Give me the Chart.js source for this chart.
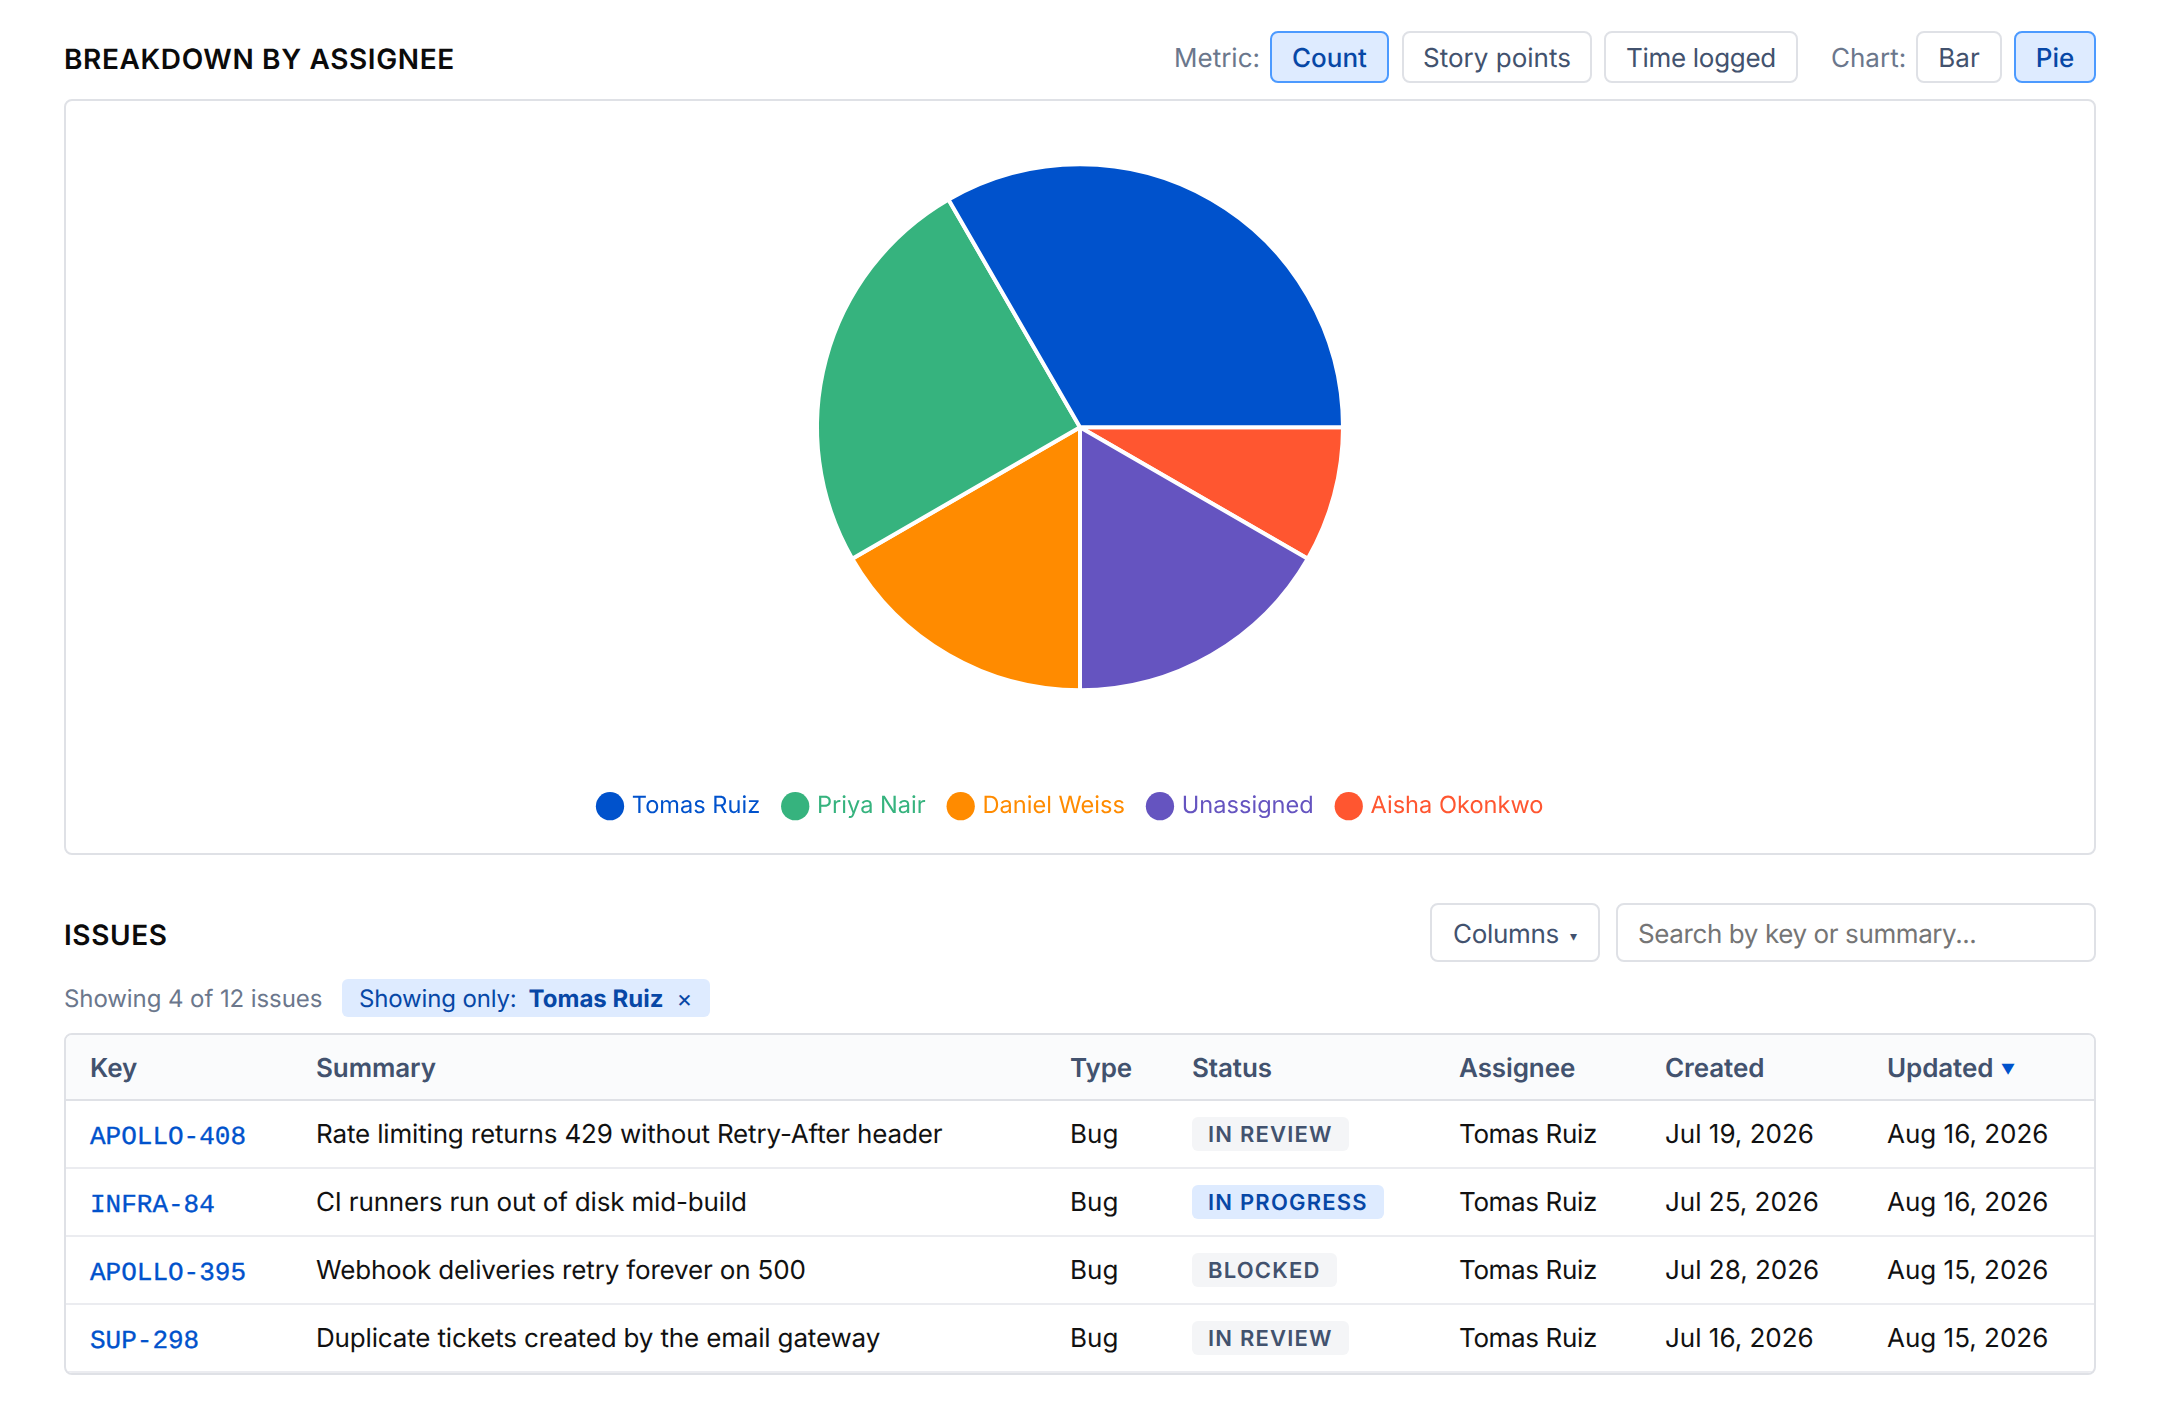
<!DOCTYPE html>
<html><head><meta charset="utf-8">
<script src="https://cdn.jsdelivr.net/npm/chart.js@4"></script>
<style>
*{box-sizing:border-box}
html,body{margin:0;padding:0;background:#fff;width:2160px;height:1412px;overflow:hidden;font-family:Inter,sans-serif;text-rendering:geometricPrecision;-webkit-font-smoothing:antialiased}
.abs{position:absolute;white-space:nowrap}
.h{font-size:28px;font-weight:600;letter-spacing:.62px;color:#0b0b0b;line-height:34px}
.lbl{font-size:26px;color:#6b778c;line-height:55px}
.btn{height:52px;border:2px solid #dfe1e6;border-radius:8px;background:#fff;color:#42526e;font-size:26px;font-weight:400;line-height:52px;text-align:center}
.btn.on{background:#deebff;border-color:#4c9aff;color:#0747a6;font-weight:500}
.card{left:64px;top:99px;width:2032px;height:756px;border:2px solid #dfe1e6;border-radius:8px}
canvas{position:absolute}
#wrap{position:absolute;left:66px;top:85px;width:2028px;height:743px}
#tbl{position:absolute;left:64px;top:1033px;width:2032px;height:342px;border:2px solid #dfe1e6;border-radius:8px;overflow:hidden}
.hd{position:absolute;left:0;top:0;width:100%;height:66px;background:#fafbfc;border-bottom:2px solid #dfe1e6}
.row{position:absolute;left:0;width:100%;border-bottom:2px solid #ebecf0}
.cell{position:absolute;white-space:nowrap;font-size:26px;line-height:32px;color:#111111}
.th{font-weight:600;color:#42526e;top:18px;letter-spacing:-.1px}
.key{font-family:"Liberation Mono",monospace;color:#0052cc;font-size:26px;-webkit-text-stroke:.35px #0052cc}
.sum{letter-spacing:-.16px}
.who{letter-spacing:-.36px}
.pill{position:absolute;left:1126px;top:16px;height:34px;border-radius:6px;font-size:22px;font-weight:600;letter-spacing:1.2px;line-height:36px;padding:0 16px;background:#f4f5f7;color:#42526e;white-space:nowrap}
.pill.prog{background:#deebff;color:#0747a6}
</style></head><body>
<div class="abs h" style="left:64px;top:42px" id="t1">BREAKDOWN BY ASSIGNEE</div>
<div class="abs lbl" style="left:1174px;top:31px">Metric:</div>
<div class="abs btn on" style="left:1270px;top:31px;width:119px">Count</div>
<div class="abs btn" style="left:1402px;top:31px;width:190px">Story points</div>
<div class="abs btn" style="left:1604px;top:31px;width:194px;letter-spacing:-.3px">Time logged</div>
<div class="abs lbl" style="left:1831px;top:31px">Chart:</div>
<div class="abs btn" style="left:1916px;top:31px;width:86px">Bar</div>
<div class="abs btn on" style="left:2014px;top:31px;width:82px">Pie</div>
<div class="abs card"></div>
<div id="wrap"><canvas id="c"></canvas></div>
<div class="abs h" style="left:64px;top:918px">ISSUES</div>
<div class="abs btn" style="left:1430px;top:903px;width:170px;height:59px;line-height:60px;text-align:left;padding-left:21px;letter-spacing:-.3px">Columns <span style="font-size:14px;margin-left:4px;vertical-align:2px">▾</span></div>
<div class="abs btn" style="left:1616px;top:903px;width:480px;height:59px;line-height:60px;text-align:left;padding-left:20px;color:#757575;letter-spacing:-.4px">Search by key or summary...</div>
<div class="abs" style="left:64px;top:983px;font-size:24px;line-height:32px;color:#6b778c;letter-spacing:-.08px">Showing 4 of 12 issues</div>
<div class="abs" style="left:342px;top:979px;width:368px;height:38px;border-radius:6px;background:#deebff;color:#0747a6;font-size:24px;line-height:40px;padding-left:17px"><span style="letter-spacing:-.15px">Showing only:</span><b style="font-weight:700;margin-left:12px">Tomas Ruiz</b><span style="margin-left:13px">×</span></div>
<div id="tbl"></div>
<script>
const assignees = ["Tomas Ruiz","Priya Nair","Daniel Weiss","Unassigned","Aisha Okonkwo"];
const issueCounts = [4,3,2,2,1];
const sliceColors = ["#0052cc","#36b37e","#ff8b00","#6554c0","#ff5630"];
const tableHeaders = ["Key","Summary","Type","Status","Assignee","Created","Updated"];
const issueKeys = ["APOLLO-408","INFRA-84","APOLLO-395","SUP-298"];
const issueSummaries = ["Rate limiting returns 429 without Retry-After header","CI runners run out of disk mid-build","Webhook deliveries retry forever on 500","Duplicate tickets created by the email gateway"];
const issueTypes = ["Bug","Bug","Bug","Bug"];
const issueStatuses = ["IN REVIEW","IN PROGRESS","BLOCKED","IN REVIEW"];
const issueAssignees = ["Tomas Ruiz","Tomas Ruiz","Tomas Ruiz","Tomas Ruiz"];
const issueCreated = ["Jul 19, 2026","Jul 25, 2026","Jul 28, 2026","Jul 16, 2026"];
const issueUpdated = ["Aug 16, 2026","Aug 16, 2026","Aug 15, 2026","Aug 15, 2026"];

// table
const colX=[24,250,1004,1126,1393,1599,1821];
const tbl=document.getElementById('tbl');
function cell(parent,x,y,txt,cls){const d=document.createElement('div');d.className='cell '+(cls||'');d.style.left=x+'px';if(y!==null)d.style.top=y+'px';d.textContent=txt;parent.appendChild(d);return d;}
const hd=document.createElement('div');hd.className='hd';tbl.appendChild(hd);
tableHeaders.forEach((t,i)=>{const c=cell(hd,colX[i],null,t,'th');if(t==='Updated'){const s=document.createElement('span');s.textContent=' ▼';s.style.cssText='color:#0052cc;font-size:14px;vertical-align:3px;margin-left:4px';c.appendChild(s);}});
issueKeys.forEach((k,r)=>{
  const row=document.createElement('div');row.className='row';row.style.top=(66+68*r)+'px';row.style.height='68px';tbl.appendChild(row);
  cell(row,colX[0],20,k,'key');
  cell(row,colX[1],18,issueSummaries[r],'sum');
  cell(row,colX[2],18,issueTypes[r]);
  const p=document.createElement('div');p.className='pill'+(issueStatuses[r]==='IN PROGRESS'?' prog':'');p.textContent=issueStatuses[r];row.appendChild(p);
  cell(row,colX[4],18,issueAssignees[r],'who');
  cell(row,colX[5],18,issueCreated[r]);
  cell(row,colX[6],18,issueUpdated[r]);
});

// chart: slices run clockwise from east in reversed legend order
Chart.defaults.font.family='Inter';
const cv=document.getElementById('c');cv.width=2028;cv.height=743;
const preciseText={id:'preciseText',
  beforeUpdate(c){c.ctx.textRendering='geometricPrecision';},
  beforeDraw(c){c.ctx.textRendering='geometricPrecision';}};
new Chart(cv,{
  type:'pie',
  plugins:[preciseText],
  data:{labels:assignees.slice().reverse(),datasets:[{
    data:issueCounts.slice().reverse(),
    backgroundColor:sliceColors.slice().reverse(),
    borderColor:'#ffffff',borderWidth:4,radius:263
  }]},
  options:{
    responsive:false,animation:false,rotation:90,
    layout:{padding:{left:509,right:509}},
    plugins:{
      tooltip:{enabled:false},
      legend:{position:'bottom',align:'start',reverse:true,labels:{
        usePointStyle:true,pointStyle:'circle',boxWidth:20,boxHeight:20,padding:25,font:{size:23.6,family:'Inter'},
        generateLabels(chart){
          return Chart.overrides.pie.plugins.legend.labels.generateLabels(chart).map(it=>({...it,fontColor:it.fillStyle,lineWidth:0,strokeStyle:it.fillStyle}));
        }
      }}
    }
  }
});
</script>
</body></html>
